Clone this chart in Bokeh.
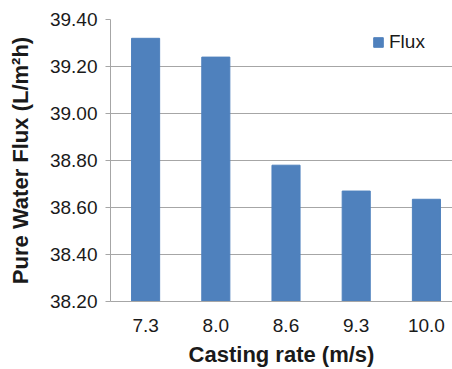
from bokeh.plotting import figure
from bokeh.models import Range1d, FixedTicker, NumeralTickFormatter, Legend, LegendItem
from bokeh.embed import file_html
from bokeh.resources import INLINE

categories = ["7.3", "8.0", "8.6", "9.3", "10.0"]
flux = [39.32, 39.24, 38.78, 38.67, 38.635]
y_ticks = [38.2, 38.4, 38.6, 38.8, 39.0, 39.2, 39.4]

xs = list(range(1, len(categories) + 1))

p = figure(width=452, height=369, output_backend="svg", toolbar_location=None,
           x_range=Range1d(0.5, 0.5 + 341 / 70), y_range=Range1d(38.2, 39.4),
           min_border_left=110, min_border_right=0, min_border_top=19, min_border_bottom=68)
p.outline_line_color = None
p.background_fill_color = "white"

r = p.vbar(x=xs, top=flux, bottom=38.2, width=0.4, fill_color="#4f81bd", line_color="#4f81bd")

font = "Liberation Sans"
gray = "#a6a6a6"
txt = "#1a1a1a"

p.xgrid.visible = False
p.ygrid.grid_line_color = gray
p.ygrid.grid_line_width = 1
p.ygrid.ticker = FixedTicker(ticks=y_ticks)

p.yaxis.ticker = FixedTicker(ticks=y_ticks)
p.yaxis.formatter = NumeralTickFormatter(format="0.00")
p.yaxis.axis_line_color = gray
p.yaxis.major_tick_line_color = gray
p.yaxis.major_tick_out = 5
p.yaxis.major_tick_in = 0
p.yaxis.minor_tick_line_color = None
p.yaxis.major_label_text_font = font
p.yaxis.major_label_text_font_size = "19px"
p.yaxis.major_label_text_color = txt
p.yaxis.major_label_standoff = 8
p.yaxis.axis_label = "Pure Water Flux (L/m\u00b2h)"
p.yaxis.axis_label_text_font = font
p.yaxis.axis_label_text_font_size = "22px"
p.yaxis.axis_label_text_font_style = "bold"
p.yaxis.axis_label_text_color = txt
p.yaxis.axis_label_standoff = 14

p.xaxis.ticker = FixedTicker(ticks=xs)
p.xaxis.major_label_overrides = {x: c for x, c in zip(xs, categories)}
p.xaxis.axis_line_color = gray
p.xaxis.major_tick_line_color = None
p.xaxis.major_tick_out = 0
p.xaxis.major_tick_in = 0
p.xaxis.minor_tick_line_color = None
p.xaxis.major_label_text_font = font
p.xaxis.major_label_text_font_size = "19px"
p.xaxis.major_label_text_color = txt
p.xaxis.major_label_standoff = 17
p.xaxis.axis_label = "Casting rate (m/s)"
p.xaxis.axis_label_text_font = font
p.xaxis.axis_label_text_font_size = "22px"
p.xaxis.axis_label_text_font_style = "bold"
p.xaxis.axis_label_text_color = txt
p.xaxis.axis_label_standoff = 7

legend = Legend(items=[LegendItem(label="Flux", renderers=[r])], location=(262, 248),
                padding=0, margin=0, spacing=0, glyph_width=12, glyph_height=12,
                label_standoff=5, label_text_font=font, label_text_font_size="19px",
                label_text_color=txt, border_line_color=None, background_fill_alpha=0)
p.add_layout(legend, "center")

open("out.html", "w").write(file_html(p, INLINE))
